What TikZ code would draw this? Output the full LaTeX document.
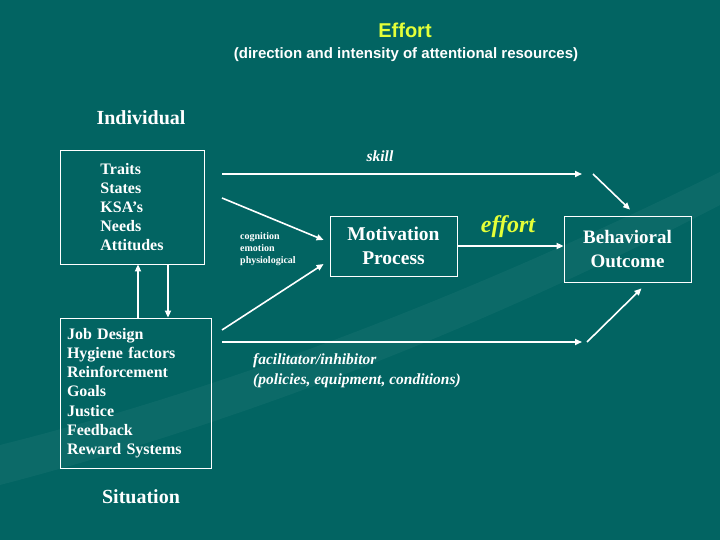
\documentclass[tikz,border=0pt]{standalone}
\usepackage{fontspec}
\setmainfont{Liberation Serif}
\newfontfamily\headfont{Liberation Sans}
\usetikzlibrary{arrows.meta,positioning,calc}
\definecolor{slidebg}{RGB}{2,100,98}
\definecolor{effcolor}{RGB}{228,255,56}

\begin{document}
\begin{tikzpicture}[x=1pt,y=-1pt,
    box/.style={draw=white, line width=0.8pt, text=white, align=left, inner sep=0pt},
    arr/.style={white, line width=1.6pt, -{Triangle[length=7pt,width=6pt]}},
    lbl/.style={text=white, inner sep=0pt}]
    % slide background with a faint swoosh
    \fill[slidebg] (0,0) rectangle (720,540);
    \useasboundingbox (0,0) rectangle (720,540);
    \fill[white, opacity=0.045] (0,445) .. controls (220,390) and (460,300) .. (720,172)
      -- (720,205) .. controls (470,335) and (230,425) .. (0,485) -- cycle;
    % heading
    \node[effcolor, font=\headfont\bfseries\fontsize{20}{22}\selectfont] (title) at (405,30) {Effort};
    \node[lbl, font=\headfont\bfseries\fontsize{15}{16}\selectfont] (subtitle) at (406,55)
      {(direction and intensity of attentional resources)};
    % left column: individual and situation
    \node[lbl, font=\bfseries\fontsize{20}{22}\selectfont] (indiv) at (141,118) {Individual};
    \node[box, minimum width=144, minimum height=114, font=\bfseries\fontsize{16}{19}\selectfont]
      (traits) at (132,207) {Traits\\States\\KSA's\\Needs\\Attitudes};
    \node[box, text width=137, inner xsep=7pt, minimum height=150, font=\bfseries\fontsize{16}{19.2}\selectfont]
      (sit) at (135.5,393) {Job Design\\Hygiene factors\\Reinforcement\\Goals\\Justice\\Feedback\\Reward Systems};
    \node[lbl, font=\bfseries\fontsize{20}{22}\selectfont] (sitlbl) at (141,497) {Situation};
    \draw[arr] ([xshift=6pt]traits.south |- sit.north) -- ([xshift=6pt]traits.south);
    \draw[arr] ([xshift=36pt]traits.south) -- ([xshift=36pt]traits.south |- sit.north);
    % middle: motivation process
    \node[box, align=center, minimum width=127, minimum height=60, font=\bfseries\fontsize{19.5}{24}\selectfont]
      (mot) at (393.5,246) {Motivation\\Process};
    \node[lbl, anchor=north west, align=left, font=\bfseries\fontsize{10}{12}\selectfont]
      (cep) at (240,232) {cognition\\emotion\\physiological};
    \coordinate (inU) at (222,198);
    \coordinate (inL) at (222,330);
    \draw[arr] (inU) -- ([xshift=-6pt,yshift=6pt]mot.west);
    \draw[arr] (inL) -- ([xshift=-6pt,yshift=-18pt]mot.west);
    % right: behavioral outcome
    \node[box, align=center, minimum width=127, minimum height=66, font=\bfseries\fontsize{19}{24}\selectfont]
      (beh) at (627.5,249) {Behavioral\\Outcome};
    \draw[arr] (mot.east) -- (mot.east -| beh.west);
    \node[effcolor, font=\bfseries\itshape\fontsize{24}{26}\selectfont] (eff) at (508,227) {effort};
    % skill and facilitator paths
    \foreach \yy/\nm in {174/sk, 342/fc} {
      \coordinate (\nm A) at (222,\yy);
      \coordinate (\nm B) at (582,\yy);
      \draw[arr] (\nm A) -- (\nm B);
    }
    \node[lbl, font=\bfseries\itshape\fontsize{15.5}{18}\selectfont] (skill) at (380,156) {skill};
    \node[lbl, anchor=north west, align=left, font=\bfseries\itshape\fontsize{15.5}{20}\selectfont]
      (fac) at (253,353) {facilitator/inhibitor\\(policies, equipment, conditions)};
    \coordinate (skC) at (593,174);
    \coordinate (fcC) at (587,342);
    \draw[arr] (skC) -- ([xshift=2.5pt,yshift=6pt]beh.north);
    \draw[arr] (fcC) -- ([xshift=14pt,yshift=-6pt]beh.south);
\end{tikzpicture}
\end{document}
